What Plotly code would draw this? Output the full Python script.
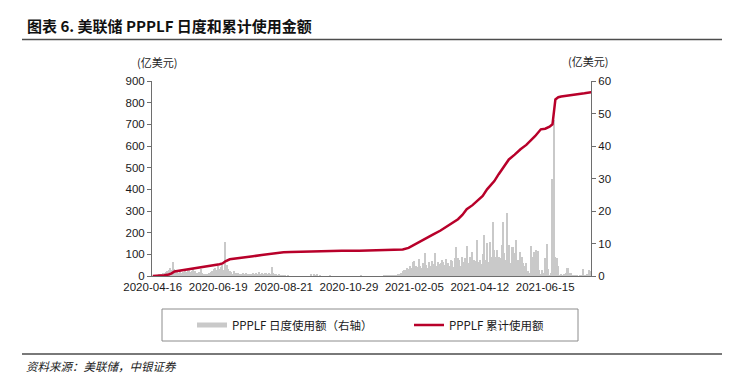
import plotly.graph_objects as go

# ---------------- data ----------------
tick_labels = ["2020-04-16", "2020-06-19", "2020-08-21", "2020-10-29",
               "2021-02-05", "2021-04-12", "2021-06-15"]
tick_index = [0, 45, 90, 135, 180, 225, 270]

# daily usage (亿美元, right axis), one value per observation index 0..302
daily_2020_a = [0, 0.1, 0.2, 0.3, 0.5, 0.4, 0.6, 0.8,
                1.0, 1.2, 1.5, 2.0, 2.4, 1.8, 4.4, 2.2,
                1.6, 1.3, 1.0, 1.4, 0.9, 1.2, 1.6, 1.1,
                1.8, 2.0, 1.3, 1.6, 2.2, 1.4, 1.0, 0.8,
                1.2, 2.1, 1.0, 0.6, 0.4, 0.7, 0.5, 0.9,
                1.2, 1.5, 2.1, 2.6, 1.8, 3.2, 2.2, 2.8,
                3.4, 2.0, 10.6, 3.3, 2.1]
daily_2020_b = [1.6, 1.2, 0.6, 1.4, 0.9, 0.5, 1.0, 0.7,
                0.6, 0.9, 0.5, 0.8, 0.6, 0.4, 0.7, 0.5,
                0.9, 0.6, 0.8, 0.5, 1.1, 0.7, 0.9, 0.6,
                0.8, 1.0, 0.5, 0.9, 0.7, 2.8, 0.9, 0.6,
                0.5, 0.3, 0.4, 0.2, 0.3, 0.1, 0.2, 0.0, 0.1, 0.0, 0.0]
daily_2020_c = [0, 0, 0, 0, 0, 0, 0, 0, 0, 0, 0, 0, 0,
                0.7, 0, 0.6, 0.3, 0.5, 0, 0.2,
                0, 0, 0, 0, 0, 0, 0.1, 0, 0, 0, 0, 0, 0, 0, 0, 0, 0, 0, 0, 0,
                0, 0, 0, 0, 0, 0, 0, 0.1, 0, 0, 0, 0, 0, 0, 0, 0, 0,
                0, 0, 0, 0, 0, 0, 0.1, 0.1, 0.2, 0.1, 0.2, 0.1, 0.2, 0.2]
daily_2021 = [0.2, 0.3, 0.5, 0.4, 1.0, 1.5, 2.0, 1.8, 2.4, 2.2, 3.0, 2.5, 4.2,
              4.5, 3.0, 2.8, 5.3, 3.2, 2.6, 4.0, 7.0, 3.5, 2.4, 4.3, 3.0,
              4.6, 3.8, 7.0, 3.2, 4.4, 3.6, 4.0, 5.0, 4.2, 3.4, 5.2, 4.0,
              3.0, 5.0, 4.6, 2.8, 5.6, 9.0, 5.4, 4.8, 3.0, 6.0, 4.2, 5.5,
              9.2, 4.0, 5.8, 3.4, 7.5, 5.0, 4.6, 11.2, 4.2, 5.0, 3.8, 6.8,
              12.5, 5.0, 10.2, 4.2, 10.5, 6.0, 16.5, 8.0, 6.0, 8.0, 6.0,
              5.5, 9.5, 16.7, 7.0, 4.8, 19.5, 9.5, 4.0, 9.0, 9.0, 7.0, 11.2,
              5.0, 3.2, 7.5, 6.0, 4.0, 3.0, 4.0, 1.5, 1.0, 9.3, 6.0, 7.5,
              5.0, 8.0, 7.8, 2.0, 0.5, 2.0, 1.0, 5.5, 10.0, 2.3, 0.3, 0.8,
              30.0, 48.0, 6.0, 5.5, 3.0, 0.3, 0.5, 0.2, 0.5, 1.0, 2.5, 2.5,
              0.8, 1.0, 0.3, 0.2, 0.3, 0.1, 0.0, 0.2, 0.1, 2.2, 0.3, 0.2,
              0.5, 1.7, 1.6]
daily_usage = daily_2020_a + daily_2020_b + daily_2020_c + daily_2021
obs_index = list(range(len(daily_usage)))

# cumulative usage (亿美元, left axis) read at selected observation indices
cum_index = [0, 4, 8, 11, 13, 15, 19, 23, 28, 32, 37, 42, 46, 48, 50, 53, 57, 60,
             65, 69, 75, 81, 85, 90, 95, 100, 105, 111, 116, 120, 130, 142, 150,
             160, 168, 172, 176, 180, 184, 188, 193, 198, 203, 206, 210, 213,
             216, 220, 223, 227, 230, 233, 235, 238, 241, 243, 245, 249, 253,
             257, 260, 263, 267, 270, 273, 275, 277, 279, 281, 286, 292, 297, 302]
cum_usage = [0, 1, 3, 7, 12, 21, 25, 28, 33, 38, 44, 49, 54, 58, 68, 77, 80, 83,
             88, 91, 97, 102, 108, 110, 111, 112, 113, 114, 116, 117, 117, 117, 118,
             119, 120, 122, 130, 145, 162, 175, 192, 210, 231, 245, 262, 282,
             308, 327, 346, 370, 400, 420, 438, 470, 500, 520, 538, 560, 585,
             605, 623, 645, 677, 680, 689, 700, 815, 825, 828, 832, 838, 843, 849]

# ---------------- layout helpers ----------------
W, H = 731, 377
PL, PR, PT, PB = 152, 591, 81, 276


def px_x(p):
    return (p - PL) / (PR - PL)


def px_y(p):
    return (PB - p) / (PB - PT)


GRAY_BAR = "#c9c9c9"
RED = "#b8002a"
AXIS = "#6e6e6e"
FONT = "Liberation Sans, Noto Sans CJK SC, sans-serif"
CJK = "Noto Sans CJK SC, sans-serif"

fig = go.Figure()
fig.add_trace(go.Bar(x=obs_index, y=daily_usage, yaxis="y", marker_color=GRAY_BAR,
                     marker_line_width=0, width=0.75, showlegend=False,
                     name="PPPLF 日度使用额（右轴）"))
fig.add_trace(go.Scatter(x=[None], y=[None], mode="lines", yaxis="y",
                         line=dict(color=GRAY_BAR, width=5), legend="legend",
                         name="PPPLF 日度使用额（右轴）"))
fig.add_trace(go.Scatter(x=cum_index, y=cum_usage, yaxis="y2", mode="lines",
                         line=dict(color=RED, width=2.5), legend="legend2",
                         name="PPPLF 累计使用额"))

legend_style = dict(orientation="h", xanchor="left", yanchor="middle",
                    font=dict(family=CJK, size=11.5, color="#1a1a1a"),
                    bgcolor="rgba(0,0,0,0)", borderwidth=0)

fig.update_layout(
    width=W, height=H,
    margin=dict(l=PL, r=W - PR, t=PT, b=H - PB),
    plot_bgcolor="white", paper_bgcolor="white",
    font=dict(family=FONT, size=11.5, color="#1a1a1a"),
    bargap=0,
    xaxis=dict(range=[-0.5, len(daily_usage) - 0.5], tickvals=tick_index,
               ticktext=tick_labels, showline=True, linecolor=AXIS, linewidth=1,
               ticks="", showgrid=False, zeroline=False,
               tickfont=dict(size=11.5)),
    yaxis=dict(side="right", range=[0, 60], dtick=10, showline=True,
               linecolor=AXIS, linewidth=1, ticks="outside", ticklen=4,
               tickcolor=AXIS, showgrid=False, zeroline=False,
               tickfont=dict(size=11.5)),
    yaxis2=dict(side="left", overlaying="y", range=[0, 900], dtick=100,
                showline=True, linecolor=AXIS, linewidth=1, ticks="outside",
                ticklen=4, tickcolor=AXIS, showgrid=False, zeroline=False,
                tickfont=dict(size=11.5)),
    legend=dict(x=px_x(192), y=px_y(325), **legend_style),
    legend2=dict(x=px_x(409), y=px_y(325), **legend_style),
)

shapes = [
    dict(type="rect", xref="paper", yref="paper", x0=px_x(162), x1=px_x(578),
         y0=px_y(309), y1=px_y(341), line=dict(color="#8c8c8c", width=1)),
    dict(type="line", xref="paper", yref="paper", x0=px_x(22), x1=px_x(722),
         y0=px_y(39.5), y1=px_y(39.5), line=dict(color="#4d4d4d", width=1.5)),
    dict(type="line", xref="paper", yref="paper", x0=px_x(22), x1=px_x(722),
         y0=px_y(354), y1=px_y(354), line=dict(color="#4d4d4d", width=1.5)),
]
fig.update_layout(shapes=shapes)

annotations = [
    dict(text="<b>图表 6. 美联储 PPPLF 日度和累计使用金额</b>", xref="paper",
         yref="paper", x=px_x(25), y=px_y(26), xanchor="left", yanchor="middle",
         showarrow=False, font=dict(family=CJK, size=15, color="#111")),
    dict(text="(亿美元)", xref="paper", yref="paper", x=px_x(157), y=px_y(62),
         xanchor="center", yanchor="middle", showarrow=False,
         font=dict(family=CJK, size=11, color="#222")),
    dict(text="(亿美元)", xref="paper", yref="paper", x=px_x(588), y=px_y(61),
         xanchor="center", yanchor="middle", showarrow=False,
         font=dict(family=CJK, size=11, color="#222")),
    dict(text="<i>资料来源：美联储，中银证券</i>", xref="paper", yref="paper",
         x=px_x(24), y=px_y(366), xanchor="left", yanchor="middle",
         showarrow=False, font=dict(family=CJK, size=11.5, color="#222")),
]
fig.update_layout(annotations=annotations)

fig.write_html("out.html", config={"displayModeBar": False},
               post_script="document.body.style.margin='0';"
                           "document.body.style.overflow='hidden';")
